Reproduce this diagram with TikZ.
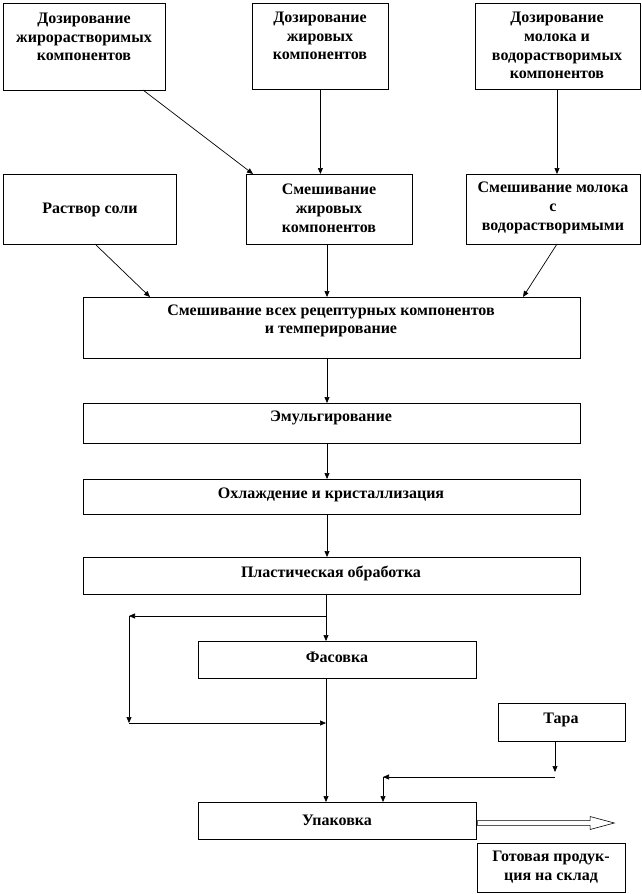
\documentclass[tikz,border=0pt]{standalone}
\usepackage{fontspec}
\setmainfont{Liberation Serif}
\usetikzlibrary{arrows.meta,shapes.arrows}
\tikzset{
  box/.style={draw, line width=0.8pt, inner sep=0pt, rectangle},
  txt/.style={font=\bfseries\fontsize{16}{18.8}\selectfont, align=center, inner sep=0pt},
  arr/.style={-{Triangle[length=6pt,width=5pt]}, line width=0.7pt},
  ln/.style={line width=0.7pt}
}
% box macro: name, x1, y1, x2, y2
\newcommand{\mkbox}[5]{%
  \node[box, minimum width=#4-#2, minimum height=#5-#3, anchor=north west] (#1) at (#2,#3) {};}
\begin{document}
\begin{tikzpicture}[x=1pt,y=-1pt]
\useasboundingbox (0,0) rectangle (642,894);

% boxes
\mkbox{b1}{3}{3}{165}{90}
\mkbox{b2}{252}{3}{388}{89}
\mkbox{b3}{475}{3}{640}{89}
\mkbox{salt}{3}{174}{176}{244}
\mkbox{mixfat}{246}{174}{412}{244}
\mkbox{mixmilk}{466}{174}{640}{244}
\mkbox{main}{83}{297}{580}{358}
\mkbox{emul}{83}{403}{580}{443}
\mkbox{cool}{83}{479}{580}{514}
\mkbox{plast}{83}{557}{580}{594}
\mkbox{fas}{198}{641}{476}{678}
\mkbox{tara}{498}{703}{625}{741}
\mkbox{pack}{198}{802}{476}{839}
\mkbox{ready}{477}{843}{625}{892}

% texts
\node[txt] (t1) at (84,37) {Дозирование\\жирорастворимых\\компонентов};
\node[txt] (t2) at (320,36) {Дозирование\\жировых\\компонентов};
\node[txt] (t3) at (557,45.5) {Дозирование\\молока и\\водорастворимых\\компонентов};
\node[txt] (tsalt) at (90,210) {Раствор соли};
\node[txt] (tmixfat) at (329,208) {Смешивание\\жировых\\компонентов};
\node[txt] (tmixmilk) at (553,208) {Смешивание молока\\с\\водорастворимыми};
\node[txt] (tmain) at (331,321) {Смешивание всех рецептурных компонентов\\и темперирование};
\node[txt] (temul) at (331,418) {Эмульгирование};
\node[txt] (tcool) at (331,495) {Охлаждение и кристаллизация};
\node[txt] (tplast) at (331,573) {Пластическая обработка};
\node[txt] (tfas) at (337,657) {Фасовка};
\node[txt] (ttara) at (561,720) {Тара};
\node[txt] (tpack) at (337,820) {Упаковка};
\node[txt] (tready) at (551,867) {Готовая продук-\\ция на склад};

% coordinates for connectors
\coordinate (b1o) at (143,90);
\coordinate (mf1) at (253,174);
\coordinate (saltO) at (95,244);
\coordinate (mainA) at (150,297);
\coordinate (milkO) at (557,244);
\coordinate (mainC) at (523,297);
\coordinate (split) at (326,616);
\coordinate (lt) at (129,616);
\coordinate (lb) at (129,723);
\coordinate (rb) at (326,723);
\coordinate (taraTurn) at (555,777);
\coordinate (taraL) at (383,777);
\coordinate (packT) at (383,802);

% connectors
\draw[arr] (b1o) -- (mf1);
\draw[arr] (b2.south) -- (b2.south |- mixfat.north);
\draw[arr] (b3.south -| 557,0) -- (557,174);
\draw[arr] (saltO) -- (mainA);
\draw[arr] (327,244) -- (327,297);
\draw[arr] (milkO) -- (mainC);
\draw[arr] (327,358) -- (327,403);
\draw[arr] (327,443) -- (327,479);
\draw[arr] (327,514) -- (327,557);
\draw[arr] (326,594) -- (326,641);
\draw[arr] (split) -- (lt);
\draw[arr] (lt) -- (lb);
\draw[arr] (lb) -- (rb);
\draw[arr] (326,678) -- (326,802);
\draw[arr] (555,741) -- (555,772);
\draw[arr] (taraTurn) -- (taraL);
\draw[arr] (taraL) -- (packT);

% big hollow arrow
\node[single arrow, draw, line width=0.6pt, fill=white, minimum height=137pt, minimum width=13pt,
  single arrow head extend=3pt, single arrow tip angle=30, inner sep=1.5pt, anchor=west] (big) at (477,823) {};
\end{tikzpicture}
\end{document}
